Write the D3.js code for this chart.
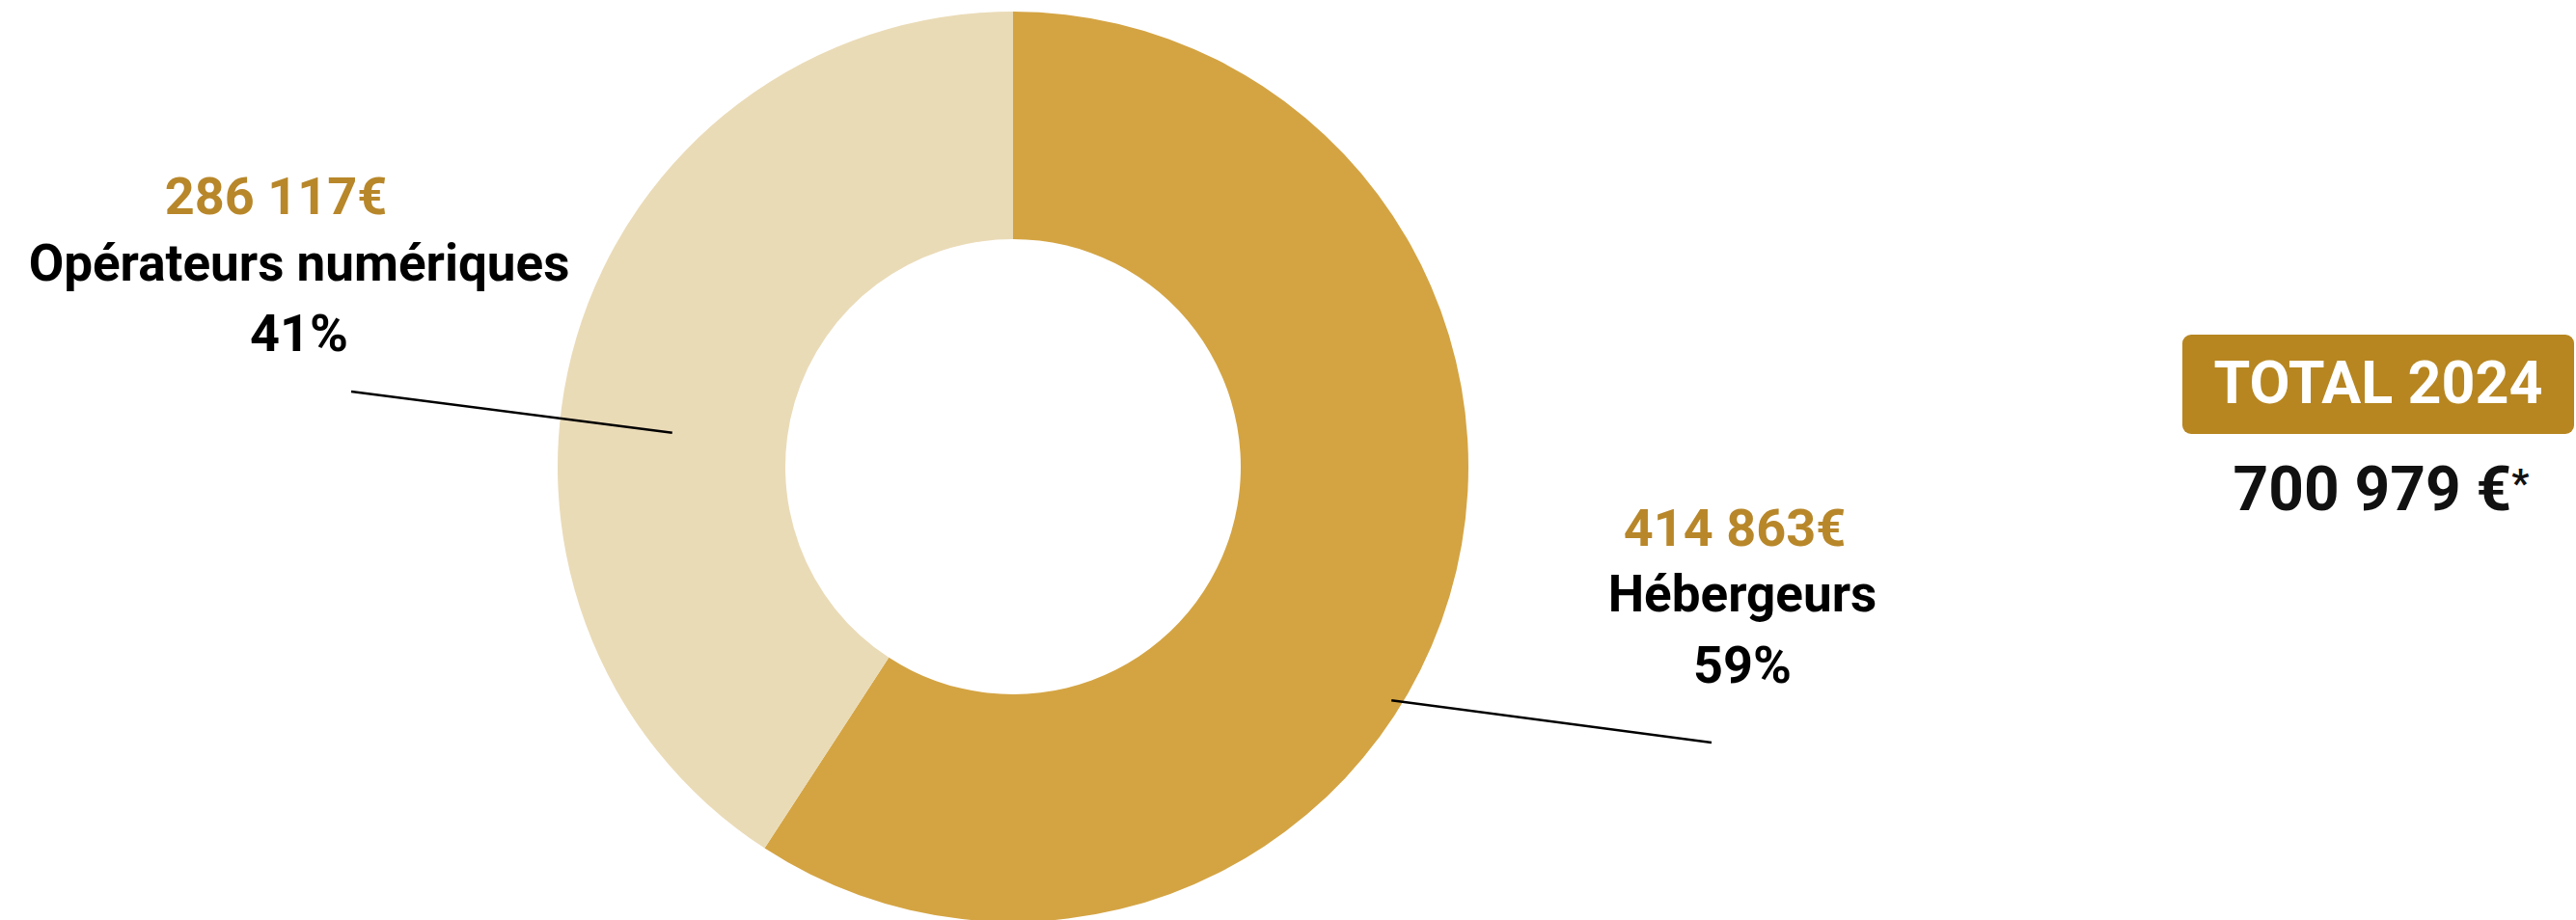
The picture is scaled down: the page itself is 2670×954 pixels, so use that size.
<!DOCTYPE html>
<html lang="fr">
<head>
  <meta charset="UTF-8" />
  <title>Total 2024</title>
  <script src="https://d3js.org/d3.v7.min.js"></script>
  <style>
    body { margin: 0; background: #fff; }
    text { font-family: Roboto, "Noto Sans", sans-serif; }
  </style>
</head>
<body>
  <svg id="chart" width="2670" height="954"></svg>

  <script>
    // data
    const categories = ["Hébergeurs", "Opérateurs numériques"];
    const amounts = [414863, 286117];
    const amountLabels = ["414 863€", "286 117€"];
    const pctLabels = ["59%", "41%"];
    const totalTitle = "TOTAL 2024";
    const totalLabel = "700 979 €";

    const colors = ["#d4a443", "#eadbb7"];
    const gold = "#b8872a";

    const svg = d3.select("#chart");
    const cx = 1050, cy = 484;
    const outerR = 472, innerR = 236;

    const pie = d3.pie().sort(null).value(d => d.value);
    const arc = d3.arc().innerRadius(innerR).outerRadius(outerR);

    const rows = categories.map((c, i) => ({ name: c, value: amounts[i], i }));

    const g = svg.append("g").attr("transform", `translate(${cx},${cy})`);
    g.selectAll("path")
      .data(pie(rows))
      .enter()
      .append("path")
      .attr("d", arc)
      .attr("fill", d => colors[d.data.i]);

    // leader lines, anchored in polar coords on the ring
    const leaders = [
      { angle: 121.7, r: 461, end: [1774, 770] },
      { angle: 275.7, r: 355, end: [364, 406] }
    ];
    leaders.forEach(l => {
      const p = d3.pointRadial(l.angle * Math.PI / 180, l.r);
      svg.append("line")
        .attr("x1", cx + p[0]).attr("y1", cy + p[1])
        .attr("x2", l.end[0]).attr("y2", l.end[1])
        .attr("stroke", "#000")
        .attr("stroke-width", 2.5);
    });

    // label blocks
    const labelPos = [
      { x: 1806, amtX: 1798, y: [566, 634, 708] },
      { x: 310, amtX: 286, y: [222, 291, 364] }
    ];
    rows.forEach((d, i) => {
      const p = labelPos[i];
      svg.append("text")
        .attr("x", p.amtX).attr("y", p.y[0])
        .attr("text-anchor", "middle")
        .attr("font-size", 54).attr("font-weight", 700)
        .attr("fill", gold)
        .text(amountLabels[i]);
      svg.append("text")
        .attr("x", p.x).attr("y", p.y[1])
        .attr("text-anchor", "middle")
        .attr("font-size", 53).attr("font-weight", 700)
        .attr("fill", "#000")
        .text(d.name);
      svg.append("text")
        .attr("x", p.x).attr("y", p.y[2])
        .attr("text-anchor", "middle")
        .attr("font-size", 54).attr("font-weight", 700)
        .attr("fill", "#000")
        .text(pctLabels[i]);
    });

    // total box
    svg.append("rect")
      .attr("x", 2262).attr("y", 347)
      .attr("width", 406).attr("height", 103)
      .attr("rx", 9)
      .attr("fill", "#b78620");
    svg.append("text")
      .attr("x", 2465).attr("y", 418)
      .attr("text-anchor", "middle")
      .attr("font-size", 61).attr("font-weight", 700)
      .attr("fill", "#fff")
      .text(totalTitle);
    const tot = svg.append("text")
      .attr("x", 2468).attr("y", 529)
      .attr("text-anchor", "middle")
      .attr("font-size", 64).attr("font-weight", 700)
      .attr("fill", "#111");
    tot.append("tspan").text(totalLabel);
    tot.append("tspan").attr("font-size", 40).attr("dy", -14).text("*");
  </script>
</body>
</html>
